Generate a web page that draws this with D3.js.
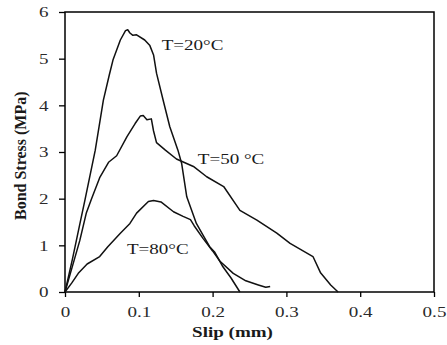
<!DOCTYPE html>
<html>
<head>
<meta charset="utf-8">
<script src="https://cdn.jsdelivr.net/npm/d3@7"></script>
<style>
  body { margin: 0; background: #fff; }
  svg text { font-family: "Liberation Serif", "Times New Roman", serif; fill: #1a1a1a; }
</style>
</head>
<body>
<figure id="bond" style="margin:0"></figure>
<script>
// slip (mm) / bond stress (MPa)
var t20 = [[0,0],[0.010,0.70],[0.020,1.45],[0.027,1.97],[0.041,3.04],[0.052,4.11],[0.060,4.65],[0.065,4.97],
  [0.075,5.40],[0.082,5.60],[0.085,5.62],[0.088,5.55],[0.092,5.50],[0.097,5.51],[0.108,5.40],[0.115,5.28],
  [0.120,5.08],[0.124,4.69],[0.133,4.11],[0.142,3.54],[0.153,3.04],[0.158,2.76],[0.165,2.04],[0.178,1.47],
  [0.187,1.22],[0.196,0.97],[0.203,0.85],[0.214,0.54],[0.225,0.30],[0.237,0]];
var t50 = [[0,0],[0.010,0.55],[0.020,1.10],[0.029,1.70],[0.036,2.00],[0.047,2.45],[0.059,2.78],[0.070,2.92],
  [0.084,3.33],[0.095,3.61],[0.102,3.77],[0.106,3.78],[0.111,3.69],[0.117,3.71],[0.120,3.45],[0.124,3.20],
  [0.136,3.04],[0.151,2.85],[0.174,2.69],[0.192,2.47],[0.215,2.26],[0.237,1.75],[0.260,1.54],[0.287,1.26],
  [0.305,1.04],[0.336,0.76],[0.346,0.42],[0.360,0.15],[0.370,0]];
var t80 = [[0,0],[0.009,0.19],[0.018,0.40],[0.030,0.60],[0.047,0.76],[0.058,0.97],[0.075,1.26],[0.088,1.47],
  [0.097,1.69],[0.113,1.94],[0.120,1.96],[0.130,1.93],[0.147,1.72],[0.160,1.62],[0.170,1.55],[0.175,1.42],
  [0.187,1.15],[0.200,0.88],[0.210,0.66],[0.228,0.40],[0.245,0.24],[0.262,0.15],[0.272,0.10],[0.278,0.12]];
var xTicks = [0, 0.1, 0.2, 0.3, 0.4, 0.5];
var yTicks = [0, 1, 2, 3, 4, 5, 6];
var labels = ["T=20\u00B0C", "T=50 \u00B0C", "T=80\u00B0C"];
var labelAt = [[0.131, 5.19], [0.180, 2.74], [0.084, 0.81]];

var stretch = 1.27; // the picture's text is wider than plain Times

var dimensions = {
  width: 447,
  height: 345,
  margin: { top: 12, right: 13, bottom: 53, left: 65 }
};
dimensions.boundedWidth = dimensions.width - dimensions.margin.left - dimensions.margin.right;
dimensions.boundedHeight = dimensions.height - dimensions.margin.top - dimensions.margin.bottom;

var svg = d3.select("figure#bond")
  .append("svg")
  .attr("width", dimensions.width)
  .attr("height", dimensions.height);

var chart = svg.append("g")
  .attr("transform", `translate(${dimensions.margin.left},${dimensions.margin.top})`);

var xScale = d3.scaleLinear().domain([0, 0.5]).range([0, dimensions.boundedWidth]);
var yScale = d3.scaleLinear().domain([0, 6]).range([dimensions.boundedHeight, 0]);

// frame
chart.append("rect")
  .attr("width", dimensions.boundedWidth)
  .attr("height", dimensions.boundedHeight)
  .attr("fill", "none")
  .attr("stroke", "#000")
  .attr("stroke-width", 1.5);

var xAxis = chart.append("g")
  .attr("transform", `translate(0, ${dimensions.boundedHeight})`)
  .call(d3.axisBottom(xScale).tickValues(xTicks).tickFormat(d => d).tickSize(5).tickPadding(9))
  .call(g => g.select(".domain").remove());

var yAxis = chart.append("g")
  .call(d3.axisLeft(yScale).tickValues(yTicks).tickFormat(d => d).tickSize(6).tickPadding(7))
  .call(g => g.select(".domain").remove());

chart.selectAll(".tick line").attr("stroke", "#000").attr("stroke-width", 1.3);
chart.selectAll(".tick text")
  .attr("transform", `scale(${stretch},1)`)
  .style("font-family", "'Liberation Serif', serif")
  .style("font-size", "15px")
  .style("fill", "#2a2a2a");

var line = d3.line()
  .x(d => xScale(d[0]))
  .y(d => yScale(d[1]));

chart.selectAll(".curve")
  .data([t20, t50, t80])
  .enter()
  .append("path")
  .attr("class", "curve")
  .attr("d", line)
  .attr("fill", "none")
  .attr("stroke", "#111")
  .attr("stroke-width", 1.5)
  .attr("stroke-linejoin", "round");

chart.selectAll(".lbl")
  .data(labels)
  .enter()
  .append("text")
  .attr("class", "lbl")
  .attr("transform", (d, i) => `translate(${xScale(labelAt[i][0])},${yScale(labelAt[i][1])}) scale(${stretch},1)`)
  .style("font-size", "15px")
  .text(d => d);

// axis titles
svg.append("text")
  .attr("transform", `translate(${dimensions.margin.left + xScale(0.227)}, 337) scale(${stretch},1)`)
  .attr("text-anchor", "middle")
  .style("font-size", "15px")
  .style("font-weight", "bold")
  .text("Slip (mm)");

svg.append("text")
  .attr("transform", `translate(26, ${dimensions.margin.top + yScale(2.92)}) rotate(-90)`)
  .attr("text-anchor", "middle")
  .style("font-size", "16px")
  .style("font-weight", "bold")
  .text("Bond Stress (MPa)");
</script>
</body>
</html>
